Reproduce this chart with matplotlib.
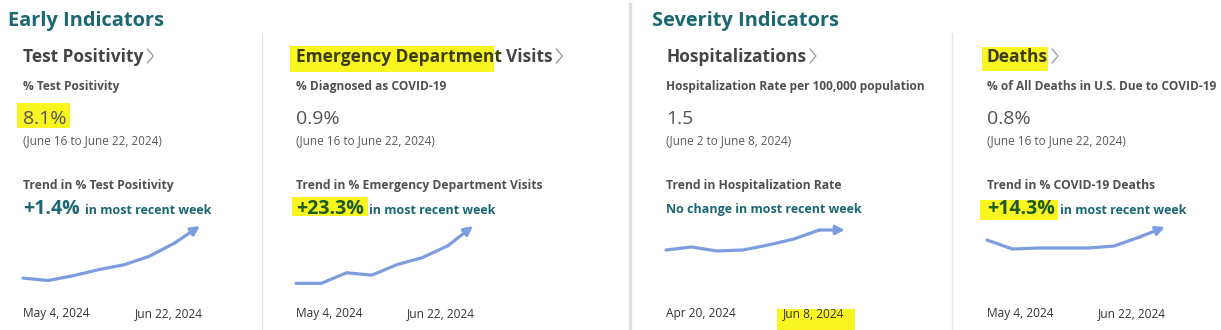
"""COVID-19 indicator dashboard strip: four cards with sparkline trends."""
import matplotlib
matplotlib.use("Agg")
import matplotlib.pyplot as plt
from matplotlib.patches import Rectangle

W, H = 1221, 330

# ---- data ----
sections = ["Early Indicators", "Severity Indicators"]
headings = ["Test Positivity", "Emergency Department Visits", "Hospitalizations", "Deaths"]
metrics = ["% Test Positivity", "% Diagnosed as COVID-19",
           "Hospitalization Rate per 100,000 population",
           "% of All Deaths in U.S. Due to COVID-19"]
values = ["8.1%", "0.9%", "1.5", "0.8%"]
periods = ["(June 16 to June 22, 2024)", "(June 16 to June 22, 2024)",
           "(June 2 to June 8, 2024)", "(June 16 to June 22, 2024)"]
trend_labels = ["Trend in % Test Positivity", "Trend in % Emergency Department Visits",
                "Trend in Hospitalization Rate", "Trend in % COVID-19 Deaths"]
changes = ["+1.4%", "+23.3%", "", "+14.3%"]
change_tail = ["in most recent week", "in most recent week",
               "No change in most recent week", "in most recent week"]
start_dates = ["May 4, 2024", "May 4, 2024", "Apr 20, 2024", "May 4, 2024"]
end_dates = ["Jun 22, 2024", "Jun 22, 2024", "Jun 8, 2024", "Jun 22, 2024"]

test_pos = [3.8, 3.6, 4.0, 4.5, 4.9, 5.6, 6.7, 8.1]
ed_visits = [0.41, 0.41, 0.50, 0.48, 0.57, 0.63, 0.73, 0.90]
hosp_rate = [1.10, 1.16, 1.08, 1.10, 1.20, 1.32, 1.50, 1.50]
death_pct = [0.67, 0.58, 0.59, 0.59, 0.59, 0.61, 0.70, 0.80]
series = [test_pos, ed_visits, hosp_rate, death_pct]

# ---- style / layout (pixels) ----
FONT = ["Open Sans", "DejaVu Sans"]
TEAL = "#1b6772"
HEAD = "#444444"
SUB = "#505050"
YELLOW = "#f8f520"
LINE = "#7d9ddf"

card_x = [23, 296, 666, 987]
end_x = [135, 407, 783, 1098]
spark_x1 = [200, 473, 845, 1165]
ylims = [(2.98, 8.76), (0.37, 0.968), (0.34, 1.74), (0.19, 0.89)]
spark_top, spark_bot = 218, 288
highlights = [(17, 103, 53, 25), (290, 46, 204, 26), (292, 197, 76, 19),
              (982, 47, 66, 24), (980, 200, 78, 20), (777, 309, 78, 21)]

plt.rcParams["font.family"] = FONT
fig = plt.figure(figsize=(W / 100, H / 100), dpi=100)
ax = fig.add_axes([0, 0, 1, 1])
ax.set_xlim(0, W)
ax.set_ylim(H, 0)
ax.axis("off")

for (x, y, w, h) in highlights:
    ax.add_patch(Rectangle((x, y), w, h, color=YELLOW, zorder=0, lw=0))

# dividers
ax.plot([262, 262], [33, H], color="#e3e3e3", lw=0.9)
ax.plot([952, 952], [33, H], color="#e3e3e3", lw=0.9)
ax.plot([630, 630], [4, H], color="#dedede", lw=2.4)

ax.text(8, 26, sections[0], fontsize=14.4, fontweight="bold", color=TEAL)
ax.text(652, 26, sections[1], fontsize=14.4, fontweight="bold", color=TEAL)

renderer = fig.canvas.get_renderer()


def right_edge(t):
    bb = t.get_window_extent(renderer)
    return bb.x1


for i, x in enumerate(card_x):
    hcol = "#3c3c10" if i in (1, 3) else HEAD
    t = ax.text(x, 62, headings[i], fontsize=12.5, fontweight="bold", color=hcol)
    if i == 1:
        # only "Emergency Department" is highlighted; redraw "Visits" in normal colour
        t.remove()
        t1 = ax.text(x, 62, "Emergency Department", fontsize=12.5, fontweight="bold", color="#3c3c10")
        t = ax.text(right_edge(t1) + 4, 62, "Visits", fontsize=12.5, fontweight="bold", color=HEAD)
    cx = right_edge(t) + 4
    ax.plot([cx, cx + 6, cx], [49, 56, 63], color="#9a9a9a", lw=0.9)

    ax.text(x, 90, metrics[i], fontsize=8.6, fontweight="bold", color=SUB)
    ax.text(x, 124, values[i], fontsize=14, color="#555555")
    ax.text(x, 144, periods[i], fontsize=8.5, color="#595959")
    ax.text(x, 189, trend_labels[i], fontsize=8.7, fontweight="bold", color=SUB)
    if changes[i]:
        ccol = "#1d5a1e" if i in (1, 3) else TEAL
        c = ax.text(x, 214, changes[i], fontsize=14, fontweight="bold", color=ccol)
        ax.text(right_edge(c) + 5, 214, change_tail[i], fontsize=9, fontweight="bold", color=TEAL)
    else:
        ax.text(x, 213, change_tail[i], fontsize=9, fontweight="bold", color=TEAL)

    ax.text(x, 317, start_dates[i], fontsize=8.6, color="#333333")
    ax.text(end_x[i], 317, end_dates[i], fontsize=8.6, color="#333333")

    # sparkline
    sx = fig.add_axes([x / W, 1 - spark_bot / H, (spark_x1[i] - x) / W, (spark_bot - spark_top) / H])
    sx.axis("off")
    v = series[i]
    idx = list(range(len(v)))
    sx.set_xlim(0, len(v) - 1)
    sx.set_ylim(*ylims[i])
    sx.plot(idx[:-1], v[:-1], color=LINE, lw=2.3, solid_joinstyle="round",
            solid_capstyle="round", clip_on=False)
    sx.annotate("", xy=(idx[-1], v[-1]), xytext=(idx[-2], v[-2]), annotation_clip=False,
                arrowprops=dict(arrowstyle="-|>", color=LINE, lw=2.3,
                                mutation_scale=13, shrinkA=0, shrinkB=0))

fig.savefig("out.png", dpi=100)
